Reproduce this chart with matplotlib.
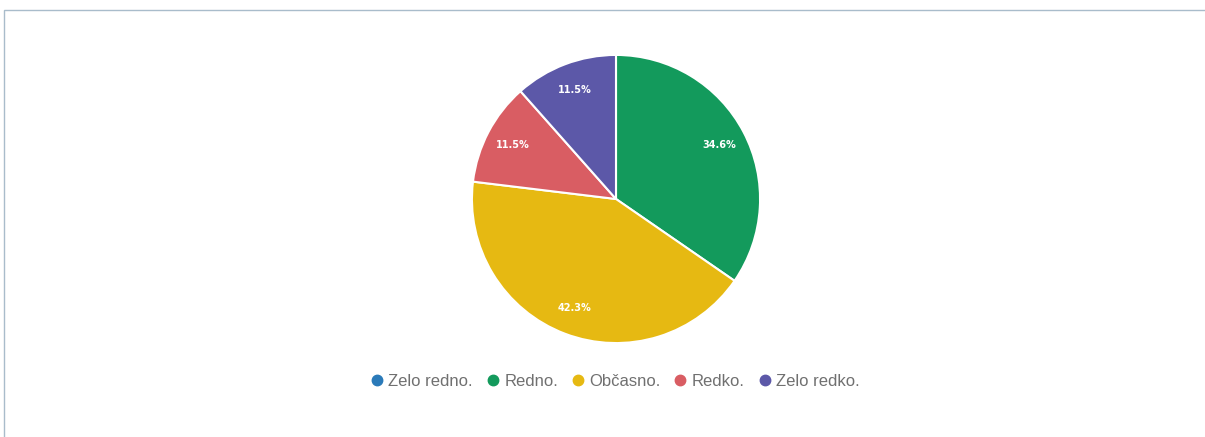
import matplotlib
matplotlib.use("Agg")
import matplotlib.pyplot as plt
from matplotlib.lines import Line2D
from matplotlib.patches import Rectangle

categories = ["Zelo redno.", "Redno.", "Občasno.", "Redko.", "Zelo redko."]
values = [0, 9, 11, 3, 3]
colors = ["#2a7ab9", "#139a5c", "#e6b912", "#d95d63", "#5c58a8"]

fig = plt.figure(figsize=(12.05, 4.37), dpi=100)
fig.patch.set_facecolor("white")

# outer frame
fig.add_artist(Rectangle((4 / 1205, -0.01), 1.02, (437 - 10) / 437 + 0.01,
                         transform=fig.transFigure, fill=False,
                         edgecolor="#a9bccb", linewidth=1.0))

cx, cy, r = 616, 199, 145.5
ax = fig.add_axes([(cx - r) / 1205, (437 - cy - r) / 437, 2 * r / 1205, 2 * r / 437])


def fmt(p):
    return "" if p < 0.05 else f"{p:.1f}%"


wedges, texts, autotexts = ax.pie(
    values, colors=colors, startangle=90, counterclock=False,
    autopct=fmt, pctdistance=0.81, radius=1.0,
    wedgeprops=dict(edgecolor="white", linewidth=1.5),
    textprops=dict(color="white", fontsize=7, fontweight="bold"),
)
ax.set_xlim(-1.01, 1.01)
ax.set_ylim(-1.01, 1.01)
ax.set_aspect("equal")
ax.axis("off")

handles = [Line2D([0], [0], marker="o", linestyle="", markersize=7.5,
                  markerfacecolor=c, markeredgecolor=c) for c in colors]
fig.legend(handles, categories, loc="center", bbox_to_anchor=(615 / 1205, (437 - 381) / 437),
           ncol=5, frameon=False, handletextpad=0.3,
           columnspacing=0.78, labelcolor="#707070", handlelength=0.8,
           prop=dict(family="Liberation Sans", size=12))

fig.savefig("out.png", dpi=100, facecolor="white")
